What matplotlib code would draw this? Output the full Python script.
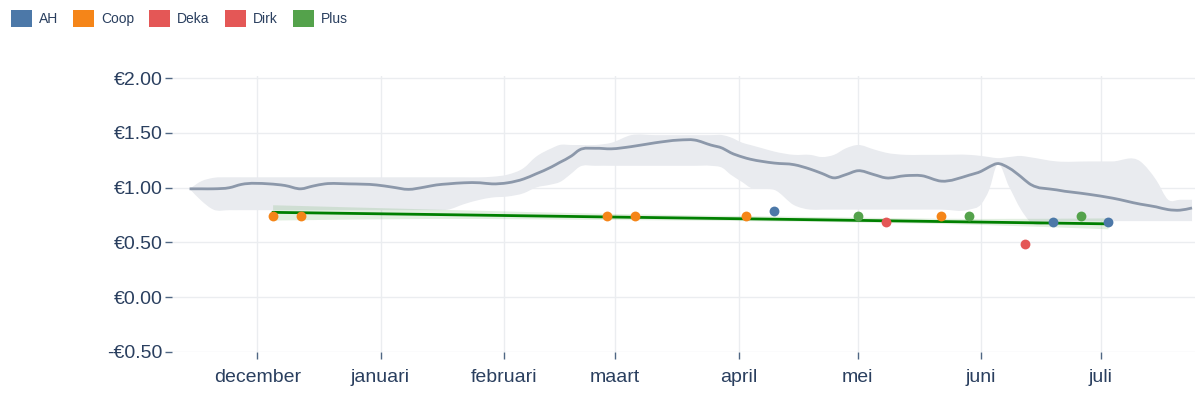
import matplotlib
matplotlib.use("Agg")
import matplotlib.pyplot as plt
import matplotlib.dates as mdates
from matplotlib.patches import Patch, PathPatch
from matplotlib.path import Path
import numpy as np
import pandas as pd

# median price line with spread band
band_dates = ["2022-11-14", "2022-11-17", "2022-11-20", "2022-11-24", "2022-11-27",
              "2022-12-04", "2022-12-08", "2022-12-12", "2022-12-15", "2022-12-18",
              "2022-12-24", "2022-12-31", "2023-01-04", "2023-01-08", "2023-01-12",
              "2023-01-15", "2023-01-18", "2023-01-22", "2023-01-26", "2023-01-29",
              "2023-02-02", "2023-02-06", "2023-02-09", "2023-02-13", "2023-02-15",
              "2023-02-18", "2023-02-20", "2023-02-24", "2023-02-28", "2023-03-05",
              "2023-03-11", "2023-03-17", "2023-03-21", "2023-03-25", "2023-03-28",
              "2023-03-30", "2023-04-02", "2023-04-04", "2023-04-07", "2023-04-10",
              "2023-04-15", "2023-04-19", "2023-04-22", "2023-04-25", "2023-04-28",
              "2023-05-01", "2023-05-05", "2023-05-08", "2023-05-13", "2023-05-17",
              "2023-05-22", "2023-05-29", "2023-06-01", "2023-06-03", "2023-06-05",
              "2023-06-08", "2023-06-11", "2023-06-13", "2023-06-20", "2023-06-28",
              "2023-07-04", "2023-07-11", "2023-07-15", "2023-07-18", "2023-07-21",
              "2023-07-24"]
median = [0.99, 0.99, 0.99, 1.00, 1.03,
          1.035, 1.02, 0.99, 1.015, 1.035,
          1.035, 1.025, 1.005, 0.985, 1.005,
          1.025, 1.035, 1.045, 1.045, 1.035,
          1.045, 1.08, 1.125, 1.19, 1.23,
          1.29, 1.345, 1.36, 1.355, 1.375,
          1.41, 1.435, 1.435, 1.39, 1.36,
          1.32, 1.28, 1.26, 1.24, 1.225,
          1.21, 1.17, 1.13, 1.09, 1.12,
          1.155, 1.12, 1.09, 1.11, 1.11,
          1.06, 1.115, 1.15, 1.19, 1.22,
          1.18, 1.10, 1.04, 0.98, 0.94,
          0.905, 0.85, 0.825, 0.80, 0.795,
          0.815]
upper = [0.99, 1.06, 1.09, 1.095, 1.095,
         1.095, 1.095, 1.095, 1.095, 1.095,
         1.095, 1.095, 1.095, 1.095, 1.095,
         1.095, 1.095, 1.095, 1.095, 1.10,
         1.12, 1.18, 1.28, 1.36, 1.39,
         1.39, 1.39, 1.39, 1.41, 1.48,
         1.48, 1.48, 1.48, 1.48, 1.48,
         1.46, 1.41, 1.39, 1.36, 1.33,
         1.30, 1.30, 1.28, 1.30, 1.36,
         1.39, 1.35, 1.32, 1.30, 1.30,
         1.30, 1.30, 1.29, 1.28, 1.27,
         1.28, 1.29, 1.28, 1.24, 1.24,
         1.24, 1.24, 1.07, 0.89, 0.89,
         0.89]
lower = [0.99, 0.88, 0.80, 0.795, 0.795,
         0.795, 0.795, 0.795, 0.795, 0.795,
         0.795, 0.795, 0.795, 0.795, 0.795,
         0.795, 0.80, 0.85, 0.89, 0.91,
         0.92, 0.95, 1.00, 1.03, 1.05,
         1.13, 1.19, 1.20, 1.20, 1.20,
         1.20, 1.20, 1.20, 1.20, 1.18,
         1.12, 1.05, 1.00, 0.99, 0.98,
         0.84, 0.80, 0.80, 0.80, 0.80,
         0.80, 0.80, 0.80, 0.80, 0.80,
         0.80, 0.80, 0.85, 0.98, 1.21,
         1.01, 0.80, 0.70, 0.695, 0.695,
         0.695, 0.695, 0.695, 0.695, 0.695,
         0.695]

# trend line with confidence band
trend_dates = ["2022-12-05", "2023-01-15", "2023-03-01", "2023-04-15", "2023-06-01", "2023-07-03"]
trend = [0.775, 0.755, 0.732, 0.71, 0.686, 0.67]
trend_hi = [0.84, 0.80, 0.76, 0.735, 0.715, 0.72]
trend_lo = [0.70, 0.715, 0.705, 0.69, 0.66, 0.62]

# observed prices per store
stores = ["AH", "Coop", "Deka", "Dirk", "Plus"]
store_colors = ["#4c78a8", "#f58518", "#e45756", "#e45756", "#54a24b"]
ah_dates = ["2023-04-10", "2023-06-19", "2023-07-03"]
ah_prices = [0.79, 0.69, 0.69]
coop_dates = ["2022-12-05", "2022-12-12", "2023-02-27", "2023-03-06", "2023-04-03", "2023-05-22"]
coop_prices = [0.74, 0.74, 0.74, 0.74, 0.74, 0.74]
deka_dates = ["2023-05-08"]
deka_prices = [0.69]
dirk_dates = ["2023-06-12"]
dirk_prices = [0.49]
plus_dates = ["2023-05-01", "2023-05-29", "2023-06-26"]
plus_prices = [0.74, 0.74, 0.74]

month_ticks = ["2022-12-01", "2023-01-01", "2023-02-01", "2023-03-01",
               "2023-04-01", "2023-05-01", "2023-06-01", "2023-07-01"]
month_labels = ["december", "januari", "februari", "maart", "april", "mei", "juni", "juli"]
y_ticks = [-0.5, 0.0, 0.5, 1.0, 1.5, 2.0]
y_labels = ["-€0.50", "€0.00", "€0.50", "€1.00", "€1.50", "€2.00"]


def spline_segments(x, y):
    """Bezier pieces through the points (like a spline line shape)."""
    x = np.asarray(x, float)
    y = np.asarray(y, float)
    h = np.diff(x)
    s = np.diff(y) / h
    m = np.empty_like(y)
    m[0], m[-1] = s[0], s[-1]
    m[1:-1] = (s[:-1] * h[1:] + s[1:] * h[:-1]) / (h[:-1] + h[1:])
    verts, codes = [], []
    for i in range(len(x) - 1):
        verts += [(x[i] + h[i] / 3, y[i] + m[i] * h[i] / 3),
                  (x[i + 1] - h[i] / 3, y[i + 1] - m[i + 1] * h[i] / 3),
                  (x[i + 1], y[i + 1])]
        codes += [Path.CURVE4] * 3
    return verts, codes


def line_path(x, y):
    v, c = spline_segments(x, y)
    return Path([(x[0], y[0])] + v, [Path.MOVETO] + c)


def band_path(x, lo, hi):
    v1, c1 = spline_segments(x, hi)
    v2, c2 = spline_segments(x[::-1], lo[::-1])
    verts = [(x[0], hi[0])] + v1 + [(x[-1], lo[-1])] + v2 + [(x[0], hi[0])]
    codes = [Path.MOVETO] + c1 + [Path.LINETO] + c2 + [Path.CLOSEPOLY]
    return Path(verts, codes)


plt.rcParams["font.family"] = ["Liberation Sans", "DejaVu Sans"]
text_color = "#2a3f5f"
grid_color = "#ebedf0"

fig = plt.figure(figsize=(12, 3.95), dpi=100)
ax = fig.add_axes([172 / 1200, 1 - 352 / 395, (1195 - 172) / 1200, (352 - 76) / 395])
ax.xaxis_date()

bx = mdates.date2num(pd.to_datetime(band_dates))
ax.add_patch(PathPatch(band_path(bx, np.array(lower), np.array(upper)),
                       facecolor="#e9ebef", edgecolor="none", zorder=1))
ax.add_patch(PathPatch(line_path(bx, np.array(median)), facecolor="none",
                       edgecolor="#8c98aa", linewidth=2, zorder=2))

tx = mdates.date2num(pd.to_datetime(trend_dates))
ax.add_patch(PathPatch(band_path(tx, np.array(trend_lo), np.array(trend_hi)),
                       facecolor="#54a24b", alpha=0.17, edgecolor="none", zorder=3))
ax.plot(pd.to_datetime(trend_dates), trend, color="#008000", linewidth=2, zorder=4)

series = [(ah_dates, ah_prices), (coop_dates, coop_prices), (deka_dates, deka_prices),
          (dirk_dates, dirk_prices), (plus_dates, plus_prices)]
for (d, p), c in zip(series, store_colors):
    ax.scatter(pd.to_datetime(d), p, s=50, color=c, linewidths=0, zorder=5)

ax.set_xlim(pd.Timestamp("2022-11-09 14:00"), pd.Timestamp("2023-07-24 18:00"))
ax.set_ylim(-0.5, 2.02)
ax.set_xticks(pd.to_datetime(month_ticks))
ax.set_xticklabels(month_labels)
ax.set_yticks(y_ticks)
ax.set_yticklabels(y_labels)

ax.grid(True, color=grid_color, linewidth=1)
ax.set_axisbelow(True)
for s in ax.spines.values():
    s.set_visible(False)
ax.tick_params(axis="both", colors="#506784", labelcolor=text_color, labelsize=14,
               length=5, width=1)
ax.tick_params(axis="x", pad=7)
ax.tick_params(axis="y", pad=2)

handles = [Patch(facecolor=c, edgecolor="none") for c in store_colors]
fig.legend(handles, stores, loc="upper left", bbox_to_anchor=(0.001, 0.999), ncol=5,
           frameon=False, fontsize=10, labelcolor=text_color, handlelength=1.5,
           handleheight=1.44, handletextpad=0.5, columnspacing=1.1, borderaxespad=0.3)

fig.savefig("out.png", dpi=100)
